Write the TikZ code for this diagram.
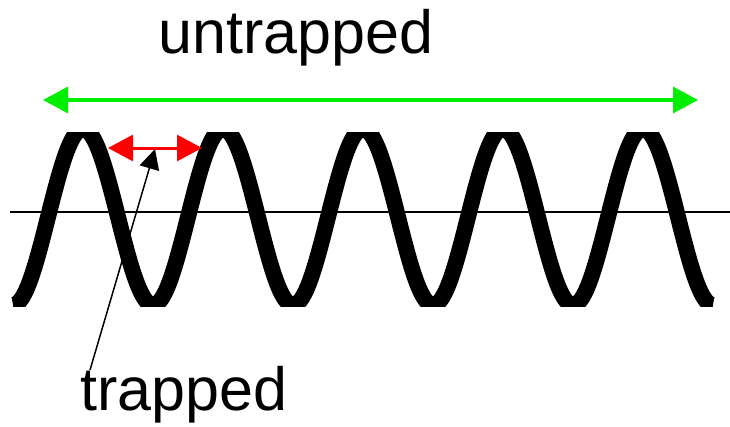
\documentclass[tikz,border=0pt]{standalone}
\usepackage{fontspec}
\setmainfont{Liberation Sans}
\usetikzlibrary{arrows.meta,positioning}
\definecolor{cgreen}{HTML}{00EE00}
\definecolor{cred}{HTML}{FF0000}

\begin{document}
\begin{tikzpicture}[x=1pt,y=-1pt,font=\fontsize{61}{70}\selectfont,>=Triangle]
  \tikzstyle{lbl}=[inner sep=0pt,anchor=base]
  \tikzstyle{wave}=[line width=16pt,line cap=butt]
  \useasboundingbox (0,0) rectangle (730,426);
  % axis
  \coordinate (al) at (10,212);
  \coordinate (ar) at (730,212);
  \draw[line width=1.5pt] (al) -- (ar);
  % the wave, cut flat at top and bottom
  \begin{scope}
    \clip (0,132) rectangle (730,306);
    \draw[wave] plot[domain=13:713,samples=400,smooth] (\x,{217+88*cos((\x-13)/140*360)});
  \end{scope}
  % labels
  \node[lbl] (untr) at (296,53) {untrapped};
  \node[lbl,anchor=base west] (tr) at (80,410) {trapped};
  % arrows
  \coordinate (gl) at (43,100);
  \coordinate (gr) at (698,100);
  \draw[cgreen,line width=3.5pt,{Triangle[length=25pt,width=26pt]}-{Triangle[length=25pt,width=26pt]}] (gl) -- (gr);
  \coordinate (rl) at (108,148);
  \coordinate (rr) at (202,148);
  \draw[cred,line width=3pt,{Triangle[length=25pt,width=26pt]}-{Triangle[length=25pt,width=26pt]}] (rl) -- (rr);
  \coordinate (tp) at (90,370);
  \coordinate (tip) at (155,149);
  \draw[line width=1.5pt,-{Triangle[length=20pt,width=20pt]}] (tp) -- (tip);
\end{tikzpicture}
\end{document}
